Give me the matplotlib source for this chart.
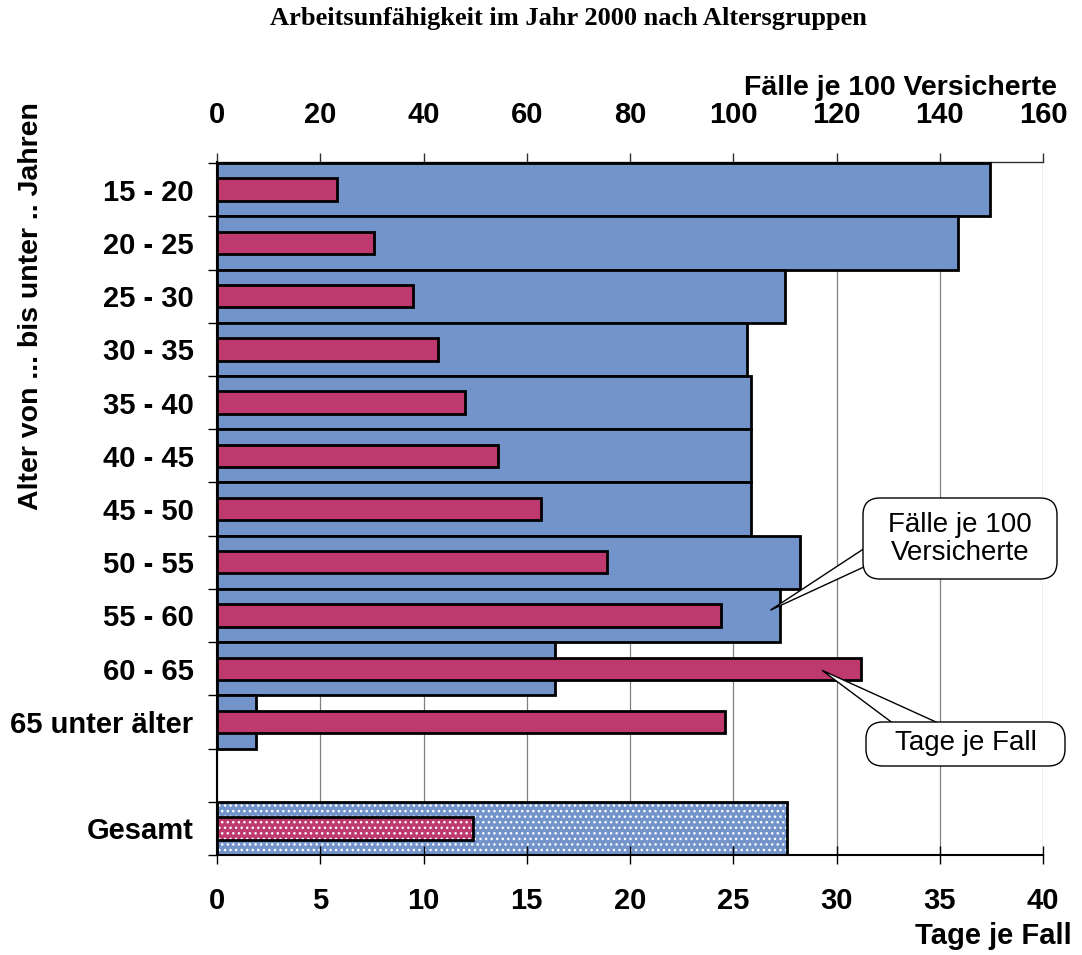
import matplotlib
matplotlib.use("Agg")
import matplotlib.pyplot as plt
from matplotlib.patches import FancyBboxPatch, Polygon
import numpy as np

categories = ["15 - 20", "20 - 25", "25 - 30", "30 - 35", "35 - 40", "40 - 45",
              "45 - 50", "50 - 55", "55 - 60", "60 - 65", "65 unter älter"]
faelle = [149.7, 143.5, 110.0, 102.7, 103.4, 103.4, 103.4, 112.9, 109.1, 65.5, 7.6]
tage = [5.8, 7.6, 9.5, 10.7, 12.0, 13.6, 15.7, 18.9, 24.4, 31.2, 24.6]
gesamt_label = "Gesamt"
gesamt_faelle = 110.4
gesamt_tage = 12.4
top_ticks = [0, 20, 40, 60, 80, 100, 120, 140, 160]
bottom_ticks = [0, 5, 10, 15, 20, 25, 30, 35, 40]

BLUE = "#7394CB"
RED = "#BE3A6E"
plt.rcParams['font.family'] = ['Liberation Sans', 'DejaVu Sans']
FS = 21

W, H = 1082, 955
DPI = 100
fig = plt.figure(figsize=(W / DPI, H / DPI), dpi=DPI)
ax = fig.add_axes([217 / W, 1 - 855 / H, (1043 - 217) / W, (855 - 162) / H])
ax2 = ax.twiny()

ypos = np.arange(len(categories))
yg = len(categories) + 1
lw = 2.0

# blue bars (top scale)
ax.barh(ypos, faelle, height=1.0, color=BLUE, edgecolor="black", linewidth=lw, zorder=3)
ax.barh([yg], [gesamt_faelle], height=1.0, color=BLUE, edgecolor="white", linewidth=0,
        hatch="...", zorder=3)
ax.barh([yg], [gesamt_faelle], height=1.0, fill=False, edgecolor="black", linewidth=lw, zorder=3.5)

# red bars (bottom scale)
hr = 0.42
ax2.barh(ypos, tage, height=hr, color=RED, edgecolor="black", linewidth=lw, zorder=3)
ax2.barh([yg], [gesamt_tage], height=hr, color=RED, edgecolor="white", linewidth=0,
         hatch="...", zorder=3)
ax2.barh([yg], [gesamt_tage], height=hr, fill=False, edgecolor="black", linewidth=lw, zorder=3.5)

ax.set_xlim(0, 160)
ax2.set_xlim(0, 40)
ax.set_ylim(yg + 0.5, -0.52)

# top axis on ax
ax.xaxis.set_ticks_position("top")
ax.xaxis.set_label_position("top")
ax.set_xticks(top_ticks)
ax.set_xticklabels([str(t) for t in top_ticks], fontsize=FS, fontweight="bold")
ax.tick_params(axis="x", direction="out", length=6.5, width=1, pad=17, color="#303030")
ax.grid(axis="x", color="#808080", linewidth=0.9, zorder=0)
ax.set_axisbelow(True)

# bottom axis on ax2
ax2.xaxis.set_ticks_position("bottom")
ax2.xaxis.set_label_position("bottom")
ax2.set_xticks(bottom_ticks)
ax2.set_xticklabels([str(t) for t in bottom_ticks], fontsize=FS, fontweight="bold")
ax2.tick_params(axis="x", direction="inout", length=13, width=1, pad=16.5)

# y ticks
all_labels = categories + ["", gesamt_label]
ax.set_yticks(np.arange(-0.5, yg + 0.51, 1.0))
ax.set_yticklabels([])
ax.set_yticks(np.arange(len(all_labels)), minor=True)
ax.set_yticklabels(all_labels, minor=True, fontsize=FS, fontweight="bold")
ax.tick_params(axis="y", which="major", direction="out", length=6.5, width=1)
ax.tick_params(axis="y", which="minor", length=0, pad=17)

ax.spines["right"].set_visible(False)
ax.spines["top"].set_color("#303030")
ax.spines["top"].set_linewidth(1.0)
ax.spines["left"].set_linewidth(1.5)
ax.spines["bottom"].set_visible(False)
ax2.spines["top"].set_visible(False)
ax2.spines["right"].set_visible(False)
ax2.spines["left"].set_visible(False)
ax2.spines["bottom"].set_linewidth(1.5)

# labels
fig.text(1057 / W, 1 - 95 / H, "Fälle je 100 Versicherte", ha="right", va="baseline",
         fontsize=20.5, fontweight="bold")
fig.text(1072 / W, 1 - 944 / H, "Tage je Fall", ha="right", va="baseline",
         fontsize=FS, fontweight="bold")
fig.text(31 / W, 1 - 306 / H, "Alter von ... bis unter .. Jahren", rotation=90,
         ha="center", va="center", fontsize=20.5, fontweight="bold")
fig.text(568 / W, 1 - 19 / H, "Arbeitsunfähigkeit im Jahr 2000 nach Altersgruppen",
         ha="center", va="center", fontsize=19, fontweight="bold",
         family=["Liberation Serif", "DejaVu Serif"])

# callouts: tips are in data coordinates of the bottom axis, bases in figure pixels
def px_to_in(x, y):
    return (x / DPI, (H - y) / DPI)

def wedge(tip_data, base1_px, base2_px):
    tx, ty = ax2.transData.transform(tip_data)
    tip_in = (tx / DPI, ty / DPI)
    poly = Polygon([px_to_in(*base1_px), tip_in, px_to_in(*base2_px)], closed=True,
                   transform=fig.dpi_scale_trans, fc="white", ec="black", lw=1.0, zorder=4)
    fig.patches.append(poly)

def callout_box(x0, y0, x1, y1, text, cx, cy):
    box = FancyBboxPatch(px_to_in(x0, y1), (x1 - x0) / DPI, (y1 - y0) / DPI,
                         boxstyle="round,pad=0,rounding_size=0.17",
                         transform=fig.dpi_scale_trans, fc="white", ec="black",
                         lw=1.0, zorder=5)
    fig.patches.append(box)
    fig.text(cx / W, 1 - cy / H, text, ha="center", va="center", fontsize=20,
             linespacing=1.15, zorder=6)

wedge((26.8, 7.9), (868, 546), (866, 566))
wedge((29.3, 9.03), (898, 727), (947, 727))
callout_box(863, 498, 1057, 579, "Fälle je 100\nVersicherte", 960, 539)
callout_box(866, 722, 1065, 766, "Tage je Fall", 966, 743)

fig.savefig("out.png", dpi=DPI)
